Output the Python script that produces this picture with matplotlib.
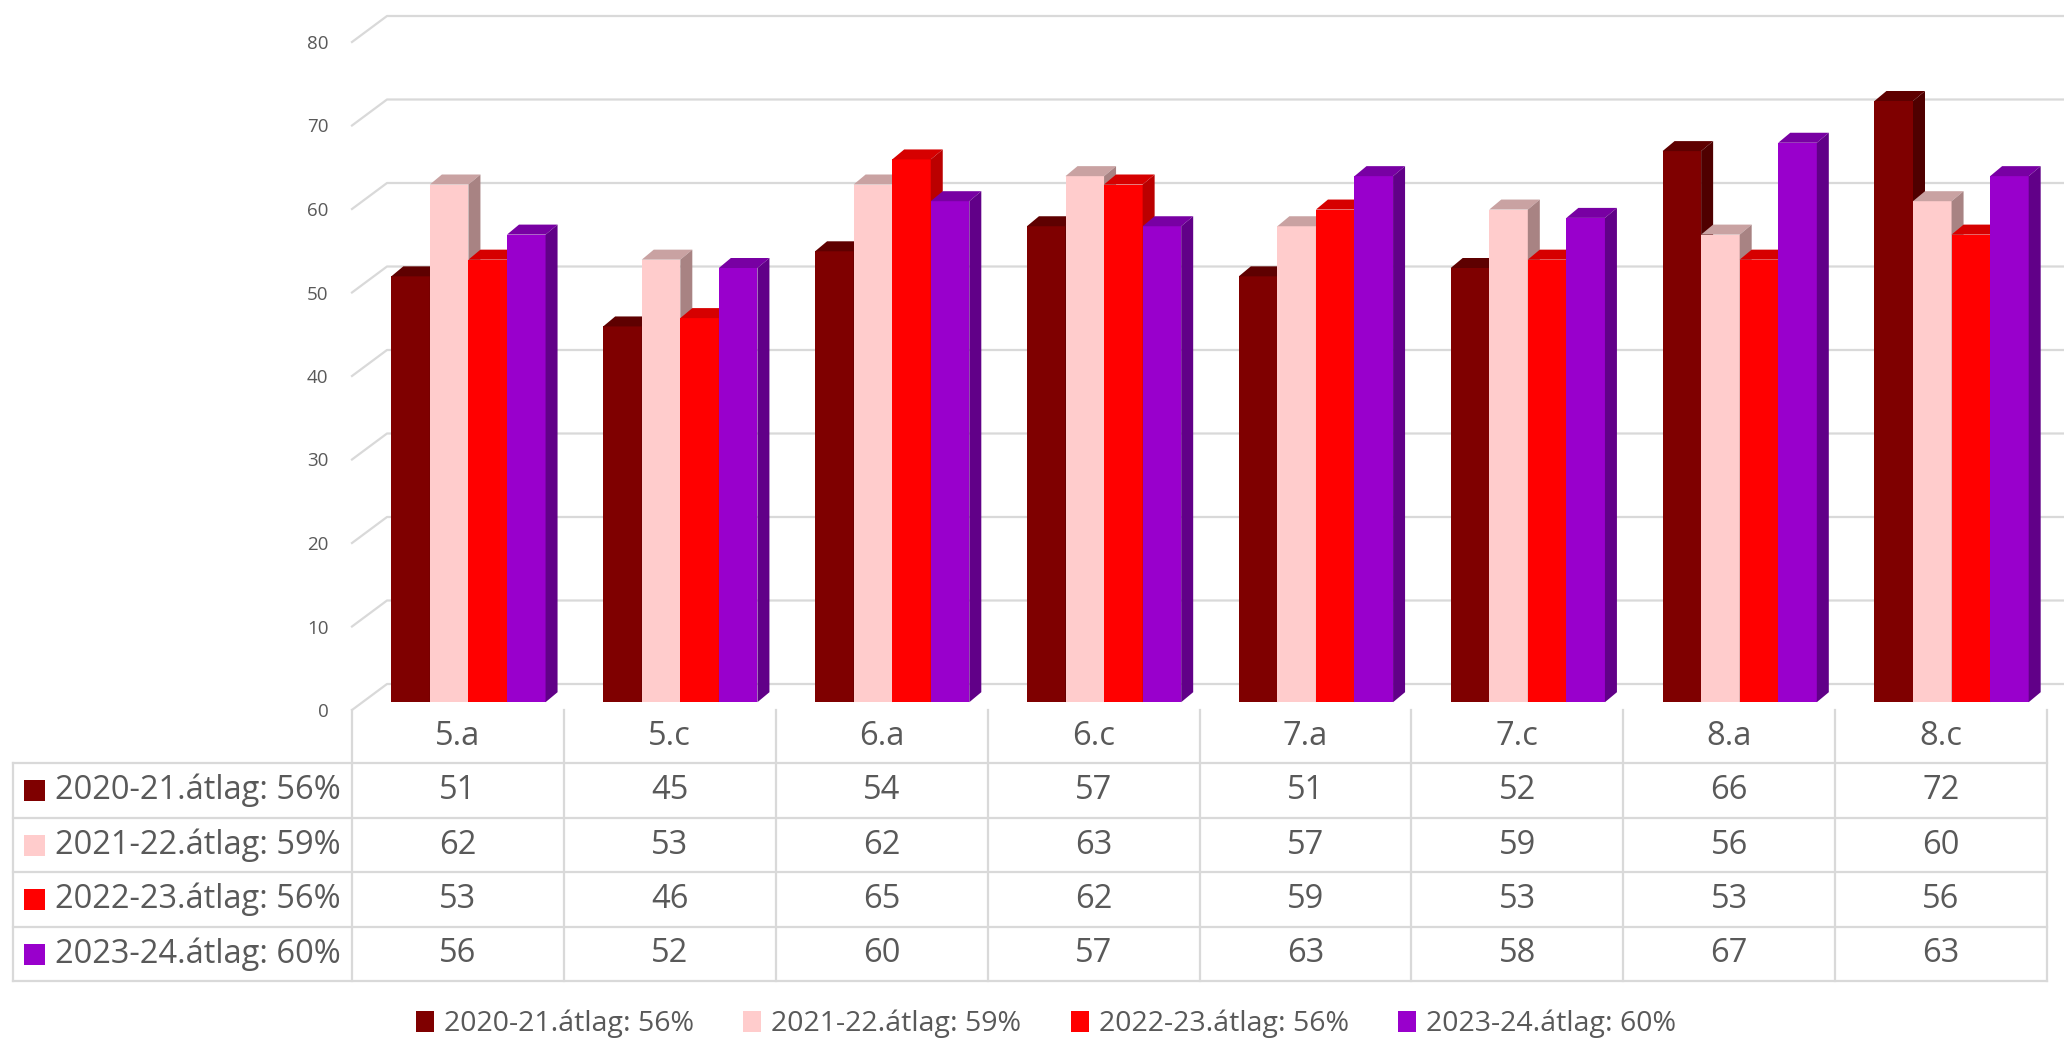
import numpy as np
import matplotlib.pyplot as plt
from matplotlib.patches import Polygon, Patch
from matplotlib.lines import Line2D

plt.rcParams['font.family'] = ['Open Sans', 'DejaVu Sans']

# data
classes = ['5.a', '5.c', '6.a', '6.c', '7.a', '7.c', '8.a', '8.c']
series_names = ['2020-21.átlag: 56%', '2021-22.átlag: 59%',
                '2022-23.átlag: 56%', '2023-24.átlag: 60%']
y2020 = [51, 45, 54, 57, 51, 52, 66, 72]
y2021 = [62, 53, 62, 63, 57, 59, 56, 60]
y2022 = [53, 46, 65, 62, 59, 53, 53, 56]
y2023 = [56, 52, 60, 57, 63, 58, 67, 63]
yticks = [0, 10, 20, 30, 40, 50, 60, 70, 80]

series = [y2020, y2021, y2022, y2023]
front_cols = ['#7f0000', '#ffcccc', '#ff0000', '#9900cc']
top_cols = ['#5e0000', '#c9a2a2', '#d60000', '#7800a3']
side_cols = ['#4f0000', '#a88383', '#bb0000', '#610088']
grid_col = '#d9d9d9'
txt_col = '#595959'

W, H = 2064, 1040
def fx(px):
    return px / W
def fy(py):
    return 1 - py / H

# front plane of the chart, in pixels
X0, X1 = 352, 2047
Y0, Y1 = 710, 42
colw = (X1 - X0) / len(classes)

fig = plt.figure(figsize=(W / 100, H / 100), dpi=100)
ax = fig.add_axes([fx(X0), fy(Y0), fx(X1) - fx(X0), fy(Y1) - fy(Y0)])
ax.set_xlim(-0.5, len(classes) - 0.5)
ax.set_ylim(0, 80)
for s in ax.spines.values():
    s.set_visible(False)
ax.set_xticks([])
ax.set_yticks(yticks)
ax.tick_params(axis='y', length=0, pad=17, labelsize=13.5, labelcolor=txt_col)

# 3d offsets (data units)
px_x = colw
px_y = (Y0 - Y1) / 80.0
back_dx, back_dy = 35 / px_x, 26 / px_y
f = 0.3
off_x, off_y = f * back_dx, f * back_dy
dep_x, dep_y = 12 / px_x, 10 / px_y

# gridlines on the back wall + slanted floor edges
x_right = -0.5 + (W - X0) / px_x
for v in yticks:
    ax.plot([-0.5, -0.5 + back_dx, x_right], [v, v + back_dy, v + back_dy],
            color=grid_col, lw=1.6, zorder=1, clip_on=False)

# bars
bw = 0.182
x = np.arange(len(classes))
for i, vals in enumerate(series):
    left = x - 2 * bw + i * bw + off_x
    ax.bar(left, vals, width=bw, bottom=off_y, align='edge',
           color=front_cols[i], lw=0, zorder=3 + i)
    for xl, v in zip(left, vals):
        top = v + off_y
        xr = xl + bw
        ax.add_patch(Polygon([(xl, top), (xr, top), (xr + dep_x, top + dep_y),
                              (xl + dep_x, top + dep_y)],
                             closed=True, color=top_cols[i], lw=0, zorder=3.5 + i))
        ax.add_patch(Polygon([(xr, off_y), (xr + dep_x, off_y + dep_y),
                              (xr + dep_x, top + dep_y), (xr, top)],
                             closed=True, color=side_cols[i], lw=0, zorder=3.5 + i))

# data table below the chart
row_y = [710, 763, 818, 872, 927, 981]
TL = 13

def hline(py, xa, xb):
    fig.add_artist(Line2D([fx(xa), fx(xb)], [fy(py), fy(py)], color=grid_col, lw=1.6))

def vline(px, ya, yb):
    fig.add_artist(Line2D([fx(px), fx(px)], [fy(ya), fy(yb)], color=grid_col, lw=1.6))

for py in row_y[1:]:
    hline(py, TL, X1)
vline(TL, row_y[1], row_y[-1])
for k in range(len(classes) + 1):
    vline(X0 + k * colw, row_y[0], row_y[-1])

for k, c in enumerate(classes):
    cx = X0 + (k + 0.5) * colw
    fig.text(fx(cx), fy((row_y[0] + row_y[1]) / 2), c, ha='center', va='center',
             fontsize=23.5, color=txt_col)
    for i, vals in enumerate(series):
        cy = (row_y[i + 1] + row_y[i + 2]) / 2
        fig.text(fx(cx), fy(cy), str(vals[k]), ha='center', va='center',
                 fontsize=23.5, color=txt_col)

for i, name in enumerate(series_names):
    cy = (row_y[i + 1] + row_y[i + 2]) / 2
    fig.add_artist(plt.Rectangle((fx(24), fy(cy + 10.5)), fx(21), 21 / H,
                                 color=front_cols[i], lw=0))
    fig.text(fx(55), fy(cy), name, ha='left', va='center', fontsize=23.5, color=txt_col)

# legend
handles = [Patch(facecolor=c, edgecolor='none') for c in front_cols]
fig.legend(handles, series_names, loc='center', bbox_to_anchor=(fx(1046), fy(1024)),
           ncol=4, frameon=False, fontsize=20.5, labelcolor=txt_col,
           handlelength=0.62, handleheight=0.75, handletextpad=0.35, columnspacing=1.75)

fig.savefig('out.png', dpi=100)
